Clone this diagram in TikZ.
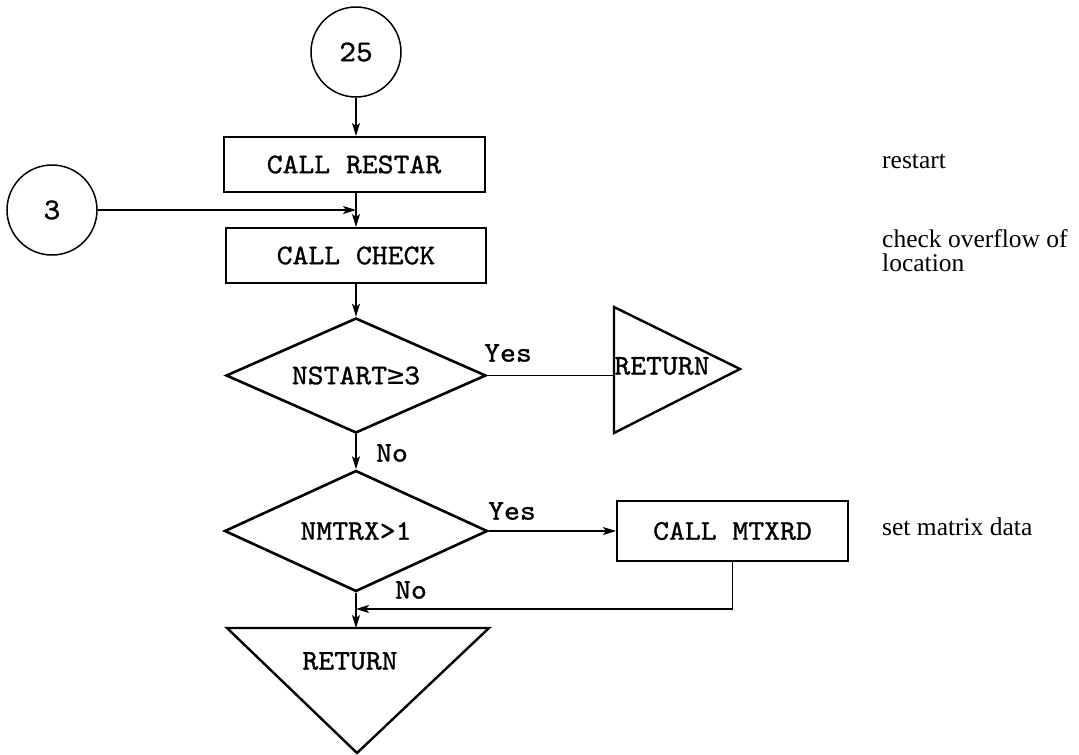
\documentclass[tikz,border=0pt]{standalone}
\usepackage{fontspec}
\setmainfont{Liberation Serif}
\setmonofont{lmmono10-regular}[Extension=.otf, FakeStretch=1.06, FakeBold=1]
\newfontfamily\geqfont{DejaVu Sans Mono}
\usetikzlibrary{shapes.geometric, arrows.meta}
\newcommand\flowtt{\ttfamily\fontsize{28.5}{30}\selectfont}
\newcommand\numtt{\ttfamily\fontsize{30}{32}\selectfont}
\newcommand\notetext{\rmfamily\fontsize{25.5}{24}\selectfont}

\begin{document}
\begin{tikzpicture}[x=1pt, y=-1pt,
  outline/.style={draw=black, line width=2pt},
  proc/.style={outline, rectangle, inner sep=0pt, font=\flowtt},
  decision/.style={outline, line width=2.6pt, diamond, aspect=2.2, inner sep=0pt, font=\flowtt},
  connector/.style={draw=black, circle, line width=1.5pt, minimum size=90pt, inner sep=0pt, font=\numtt},
  flow/.style={line width=1.4pt},
  arrow/.style={flow, -{Stealth[length=13pt, width=8pt, inset=3pt]}},
  branch/.style={font=\flowtt, inner sep=0pt},
  note/.style={font=\notetext, inner sep=0pt, align=left},
  terminal/.style={draw=black, line width=2.4pt, line join=miter},
]
\useasboundingbox (0,0) rectangle (1079,755);

% main column
\node[connector] (c25) at (356,52) {25};
\node[proc, minimum width=261pt, minimum height=55pt] (restar) at (354,164.5) {CALL RESTAR};
\node[connector] (c3) at (52,210) {3};
\node[proc, minimum width=260pt, minimum height=55pt] (check) at (356,255.5) {CALL CHECK};
\node[decision, minimum width=260pt, minimum height=115pt] (d1) at (356,375.5) {NSTART{\geqfont ≥}3};

% early return on the right
\draw[terminal] (614,307) -- (740,369) -- (614,433) -- cycle;
\coordinate (ret1in) at (614,372);
\node[branch] (ret1) at (662,366) {RETURN};

\node[decision, minimum width=263pt, minimum height=121pt] (d2) at (356,531) {NMTRX>1};
\node[proc, minimum width=231pt, minimum height=60pt] (mtx) at (732.5,531) {CALL MTXRD};

% final return
\draw[terminal] (227,628) -- (489,628) -- (357,753) -- cycle;
\coordinate (ret2in) at (356,628);
\node[branch] (ret2) at (350,661) {RETURN};
\coordinate (merge) at (356,609);

% connectors
\draw[arrow] (c25.south) -- (c25.south |- restar.north);
\draw[arrow] (check.north |- restar.south) -- (check.north);
\draw[arrow] (c3.east) -- (c3.east -| check.north);
\draw[arrow] (check.south) -- (d1.north);
\draw[flow] (d1.east) -- (d1.east -| ret1in);
\draw[arrow] (d1.south) -- (d2.north);
\draw[arrow] (d2.east) -- (mtx.west);
\draw[arrow] (d2.south) -- (ret2in);
\draw[arrow] (mtx.south) |- (merge);

% branch labels
\node[branch] (yes1) at (508,353) {Yes};
\node[branch] (no1) at (392,453) {No};
\node[branch] (yes2) at (512,511) {Yes};
\node[branch] (no2) at (411,590) {No};

% remarks
\node[note, anchor=base west] (n1) at (882,168) {restart};
\node[note, anchor=base west] (n2) at (882,247) {check overflow of};
\node[note, anchor=base west] (n2b) at (882,271) {location};
\node[note, anchor=base west] (n3) at (882,535) {set matrix data};
\end{tikzpicture}
\end{document}
